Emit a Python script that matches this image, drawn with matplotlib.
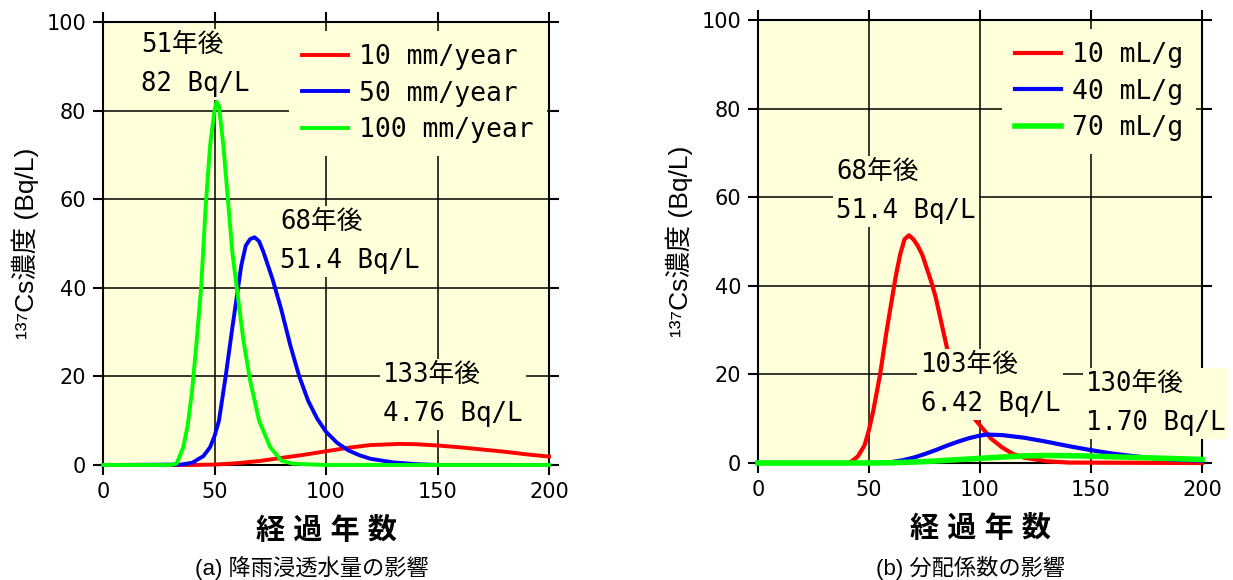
import matplotlib
matplotlib.use("Agg")
import matplotlib.pyplot as plt

plt.rcParams['font.family'] = ['Liberation Sans', 'Noto Sans CJK JP', 'DejaVu Sans']

# (a) rainfall infiltration rate
rain_labels = ["10 mm/year", "50 mm/year", "100 mm/year"]
rain10_x = [0, 40, 50, 60, 70, 80, 90, 100, 110, 120, 133, 140, 150, 160, 170, 180, 190, 200]
rain10_y = [0, 0, 0.1, 0.4, 0.9, 1.6, 2.3, 3.1, 3.9, 4.5, 4.76, 4.7, 4.4, 4.0, 3.5, 3.0, 2.4, 1.9]
rain50_x = [0, 35, 40, 45, 48, 50, 52, 55, 58, 60, 62, 64, 66, 68, 70, 72, 74, 76, 78, 80,
            84, 88, 92, 96, 100, 105, 110, 115, 120, 130, 140, 150, 200]
rain50_y = [0, 0.1, 0.5, 2, 4, 6.5, 10, 20, 31, 38, 45, 49.5, 51, 51.4, 50.5, 48, 45, 42, 38.5, 35,
            27, 20, 14.5, 10.5, 7.5, 5, 3.3, 2.2, 1.4, 0.6, 0.2, 0, 0]
rain100_x = [0, 30, 33, 36, 38, 40, 42, 44, 46, 48, 50, 51, 52, 54, 56, 58, 60, 63, 66, 70,
             75, 80, 85, 100, 200]
rain100_y = [0, 0, 0.3, 4, 9, 17, 28, 40, 58, 72, 80, 82, 81, 72, 60, 48, 40, 28, 19, 10,
             4, 1, 0.3, 0, 0]

# (b) distribution coefficient
kd_labels = ["10 mL/g", "40 mL/g", "70 mL/g"]
kd10_x = [0, 40, 42, 45, 48, 50, 52, 55, 58, 60, 62, 64, 66, 68, 70, 72, 74, 76, 78, 80,
          82, 84, 86, 90, 95, 100, 105, 110, 115, 120, 130, 140, 200]
kd10_y = [0, 0, 0.3, 1.5, 4, 7.5, 12, 20, 30, 36, 42, 47, 50.5, 51.4, 50.5, 49, 47, 44, 41, 37.5,
          33, 28.5, 24, 17, 11.5, 8.5, 5.5, 3.5, 2, 1.2, 0.4, 0.1, 0]
kd40_x = [0, 50, 55, 60, 65, 70, 75, 80, 85, 90, 95, 100, 103, 110, 120, 130, 140, 150, 160,
          170, 180, 190, 200]
kd40_y = [0, 0, 0.05, 0.2, 0.6, 1.2, 2.0, 2.9, 3.9, 4.8, 5.6, 6.2, 6.42, 6.3, 5.7, 4.8, 3.8,
          2.9, 2.1, 1.5, 1.0, 0.7, 0.5]
kd70_x = [0, 50, 60, 70, 80, 90, 100, 110, 120, 130, 140, 150, 160, 170, 180, 190, 200]
kd70_y = [0, 0, 0.05, 0.2, 0.45, 0.75, 1.05, 1.35, 1.6, 1.7, 1.65, 1.55, 1.4, 1.25, 1.1, 0.95, 0.8]

x_ticks = [0, 50, 100, 150, 200]
y_ticks = [0, 20, 40, 60, 80, 100]

bg = '#FFFFD9'
colors = ['#FF0000', '#0000FF', '#00FF00']
mono = ['DejaVu Sans Mono', 'Noto Sans CJK JP']

fig = plt.figure(figsize=(12.33, 5.8), dpi=100)
ax_a = fig.add_axes([103 / 1233, 115 / 580, 446 / 1233, 443 / 580])
ax_b = fig.add_axes([758 / 1233, 117 / 580, 444 / 1233, 443 / 580])


def setup(ax, label_x):
    ax.set_facecolor(bg)
    ax.set_xlim(0, 200)
    ax.set_ylim(0, 100)
    ax.set_xticks(x_ticks)
    ax.set_yticks(y_ticks)
    ax.set_axisbelow(True)
    ax.grid(True, color='black', linewidth=1.1)
    for s in ax.spines.values():
        s.set_linewidth(1.5)
    ax.tick_params(direction='out', length=7, width=1.5, top=True, right=True, pad=5)
    for t in ax.get_xticklabels() + ax.get_yticklabels():
        t.set_fontfamily('DejaVu Sans')
        t.set_fontsize(15)
    ax.set_xlabel('経 過 年 数', fontsize=21, fontweight='bold', va='center')
    ax.xaxis.set_label_coords(0.5, -0.15)
    ax.set_ylabel('¹³⁷Cs濃度 (Bq/L)', fontsize=19, va='center')
    ax.yaxis.set_label_coords(label_x, 0.5)


def note(ax, x, y, s):
    ax.text(x, y, s, fontsize=18.5, family=mono, ha='left', va='center', linespacing=1.65,
            zorder=4, bbox=dict(boxstyle='square,pad=0.12', fc=bg, ec='none'))


def add_legend(ax, anchor):
    leg = ax.legend(loc='upper left', bbox_to_anchor=anchor, prop={'family': mono, 'size': 19},
                    handlelength=1.75, handletextpad=0.4, labelspacing=0.4, borderpad=0.5,
                    borderaxespad=0, frameon=True, fancybox=False)
    leg.get_frame().set_facecolor(bg)
    leg.get_frame().set_edgecolor('none')
    leg.get_frame().set_alpha(1)


# panel (a)
setup(ax_a, -0.175)
for xs, ys, c, lab in zip([rain10_x, rain50_x, rain100_x], [rain10_y, rain50_y, rain100_y],
                          colors, rain_labels):
    ax_a.plot(xs, ys, color=c, linewidth=2.8, label=lab, zorder=3, clip_on=False)
add_legend(ax_a, (0.417, 0.98))
note(ax_a, 17, 90.5, '51年後\n82 Bq/L')
note(ax_a, 79.4, 50.5, '68年後\n51.4 Bq/L')
note(ax_a, 125.7, 16, '133年後\n4.76 Bq/L')

# panel (b)
setup(ax_b, -0.178)
for xs, ys, c, lab, lw in zip([kd10_x, kd40_x, kd70_x], [kd10_y, kd40_y, kd70_y],
                              colors, kd_labels, [3.0, 3.0, 4.0]):
    ax_b.plot(xs, ys, color=c, linewidth=lw, label=lab, zorder=3, clip_on=False)
add_legend(ax_b, (0.5495, 0.98))
note(ax_b, 35.1, 61.3, '68年後\n51.4 Bq/L')
note(ax_b, 73.2, 17.8, '103年後\n6.42 Bq/L')
note(ax_b, 147.6, 13.5, '130年後\n1.70 Bq/L')

fig.text(312 / 1233, 1 - 568 / 580, '(a) 降雨浸透水量の影響', ha='center', va='center', fontsize=16)
fig.text(971 / 1233, 1 - 568 / 580, '(b) 分配係数の影響', ha='center', va='center', fontsize=16)

fig.savefig('out.png', dpi=100, facecolor='white')
